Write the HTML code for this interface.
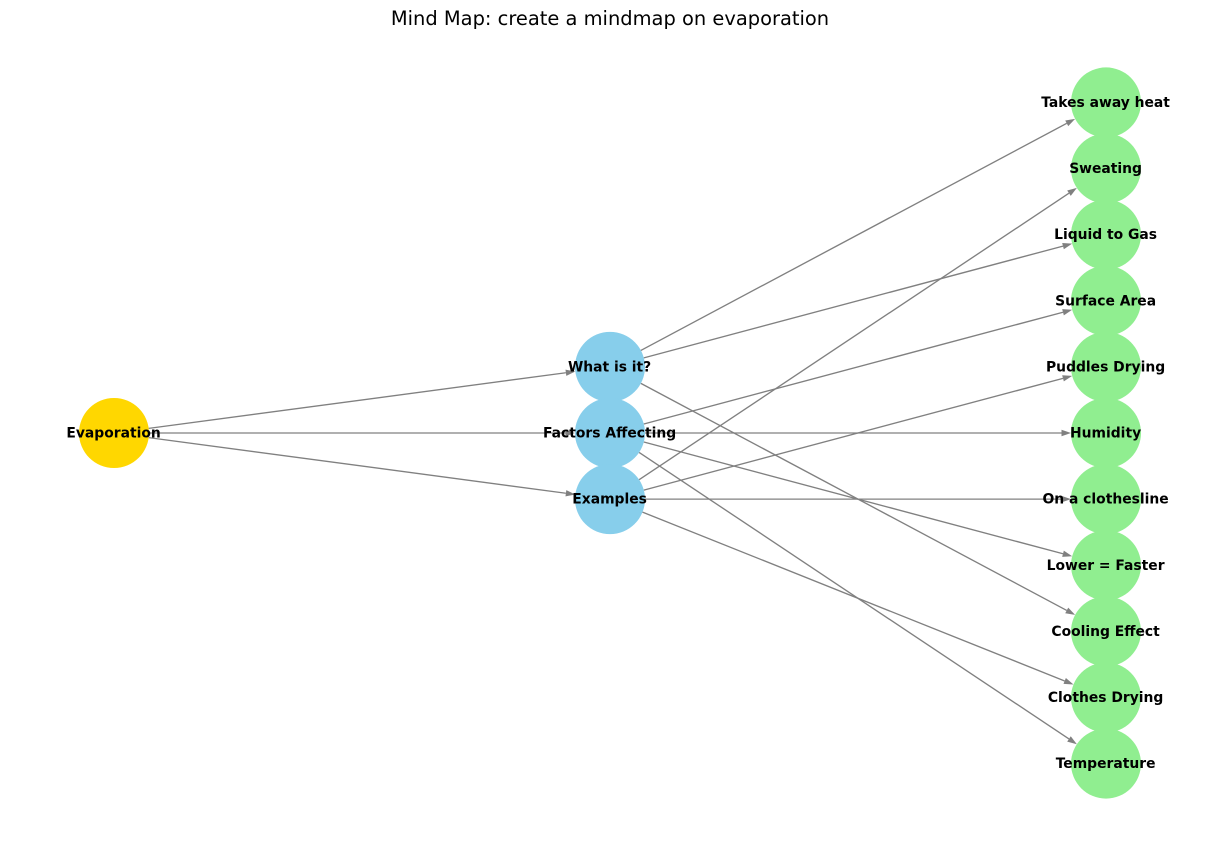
<!DOCTYPE html>
<html lang="en">
<head>
<meta charset="utf-8">
<title>Mind Map: create a mindmap on evaporation</title>
<style>
html,body{margin:0;padding:0;background:#fff;width:1220px;height:843px;overflow:hidden}
svg{display:block}
text{font-family:"DejaVu Sans",sans-serif}
</style>
</head>
<body>
<svg id="chart" xmlns="http://www.w3.org/2000/svg" width="1220" height="843" viewBox="0 0 1220 843">
<rect width="1220" height="843" fill="#ffffff"/>
<text x="610" y="25" text-anchor="middle" font-size="19.44" fill="#000">Mind Map: create a mindmap on evaporation</text>
<g id="nodes"></g>
<g id="edges"></g>
<g id="labels"></g>
</svg>
<script>
const rootNodes = ["Evaporation"];
const branchNodes = ["What is it?", "Factors Affecting", "Examples"];
const leafNodes = ["Takes away heat", "Sweating", "Liquid to Gas", "Surface Area", "Puddles Drying", "Humidity", "On a clothesline", "Lower = Faster", "Cooling Effect", "Clothes Drying", "Temperature"];
const edgeSources = ["Evaporation", "Evaporation", "Evaporation", "What is it?", "What is it?", "What is it?", "Factors Affecting", "Factors Affecting", "Factors Affecting", "Factors Affecting", "Examples", "Examples", "Examples", "Examples"];
const edgeTargets = ["What is it?", "Factors Affecting", "Examples", "Takes away heat", "Liquid to Gas", "Cooling Effect", "Surface Area", "Humidity", "Lower = Faster", "Temperature", "Sweating", "Puddles Drying", "On a clothesline", "Clothes Drying"];
const levels = [rootNodes, branchNodes, leafNodes];
const levelColors = ["#ffd700", "#87ceeb", "#90ee90"];

const NS = "http://www.w3.org/2000/svg";
const RADIUS = 35;
const xAxis = level => 114 + level * 496;
const yAxis = (rank, count) => 433 + (rank - (count - 1) / 2) * 66.12;
const slug = s => s.toLowerCase().replace(/[^a-z0-9]+/g, "-").replace(/^-|-$/g, "");

const positions = {};
levels.forEach((names, level) => {
  names.forEach((name, rank) => {
    positions[name] = { x: xAxis(level), y: yAxis(rank, names.length), color: levelColors[level] };
  });
});

const nodeLayer = document.getElementById("nodes");
const edgeLayer = document.getElementById("edges");
const labelLayer = document.getElementById("labels");

Object.keys(positions).forEach(name => {
  const p = positions[name];
  const c = document.createElementNS(NS, "circle");
  c.setAttribute("cx", p.x);
  c.setAttribute("cy", p.y);
  c.setAttribute("r", RADIUS);
  c.setAttribute("fill", p.color);
  
  
  nodeLayer.appendChild(c);
});

edgeSources.forEach((src, i) => {
  const a = positions[src];
  const b = positions[edgeTargets[i]];
  const dx = b.x - a.x, dy = b.y - a.y;
  const len = Math.hypot(dx, dy);
  const ux = dx / len, uy = dy / len;
  const x1 = a.x + ux * RADIUS, y1 = a.y + uy * RADIUS;
  const x2 = b.x - ux * RADIUS, y2 = b.y - uy * RADIUS;
  const hl = 9.5, hw = 3.2;
  const bx = x2 - ux * hl, by = y2 - uy * hl;

  const g = document.createElementNS(NS, "g");
  
  

  const line = document.createElementNS(NS, "line");
  line.setAttribute("x1", x1);
  line.setAttribute("y1", y1);
  line.setAttribute("x2", bx);
  line.setAttribute("y2", by);
  line.setAttribute("stroke", "#808080");
  line.setAttribute("stroke-width", "1.35");
  g.appendChild(line);

  const head = document.createElementNS(NS, "polygon");
  head.setAttribute("points", [
    x2 + "," + y2,
    (bx - uy * hw) + "," + (by + ux * hw),
    (bx + uy * hw) + "," + (by - ux * hw)
  ].join(" "));
  head.setAttribute("fill", "#808080");
  g.appendChild(head);

  edgeLayer.appendChild(g);
});

Object.keys(positions).forEach(name => {
  const p = positions[name];
  const t = document.createElementNS(NS, "text");
  t.setAttribute("x", p.x - 0.4);
  t.setAttribute("y", p.y + 4.6);
  t.setAttribute("text-anchor", "middle");
  t.setAttribute("font-size", "13.89");
  t.setAttribute("font-weight", "bold");
  t.setAttribute("fill", "#000");
  
  
  t.textContent = name;
  labelLayer.appendChild(t);
});
</script>
</body>
</html>
